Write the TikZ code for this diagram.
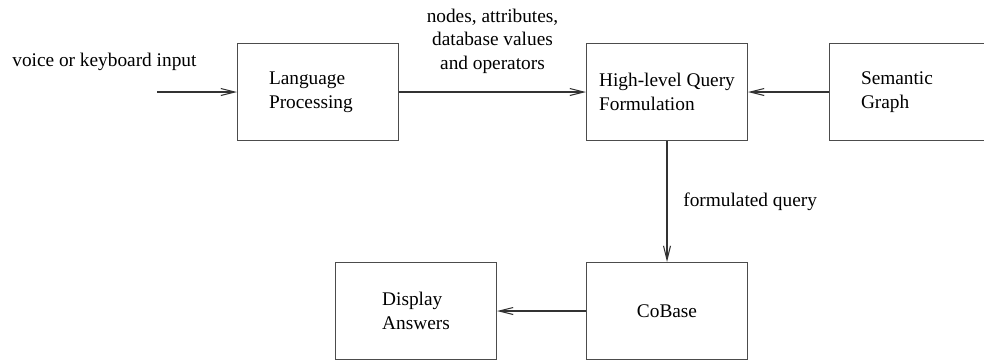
\documentclass[tikz,border=0pt]{standalone}
\usepackage{fontspec}
\setmainfont{Liberation Serif}
\usetikzlibrary{arrows.meta}

\begin{document}
\begin{tikzpicture}[x=0.02cm, y=-0.02cm]
        % Style definitions
        \tikzset{
            block/.style={draw=black!70, line width=0.6pt, minimum width=3.22cm, minimum height=1.94cm,
                          align=left, inner sep=0pt, font=\fontsize{11}{13.6}\selectfont},
            flow/.style={draw=black!80, line width=0.6pt, -{Straight Barb[length=2.8mm, width=1.4mm]}},
            note/.style={align=center, inner sep=0pt, font=\fontsize{11}{13.6}\selectfont}
        }
        \useasboundingbox (0, 0) rectangle (984, 360);

        % ==========================================
        % TOP ROW (y = 92)
        % ==========================================
        \node[block, text width=1.96cm] (lang) at (318, 92) {Language\\Processing};
        \node[block] (query) at (667, 92) {High-level Query\\Formulation};
        \node[block, text width=1.96cm] (graph) at (910, 92) {Semantic\\Graph};

        % Input coming in from the left
        \node[note, anchor=west] (inlabel) at (12, 62) {voice or keyboard input};
        \coordinate (instart) at (157, 92);
        \draw[flow] (instart) -- (lang);

        % Language processing hands its results to the query formulation
        \draw[flow] (lang) -- node[note, above=10pt] (passed) {nodes, attributes,\\database values\\and operators} (query);
        \draw[flow] (graph) -- (query);

        % ==========================================
        % BOTTOM ROW (y = 311)
        % ==========================================
        \node[block] (cobase) at (667, 311) {CoBase};
        \node[block] (display) at (416, 311) {Display\\Answers};

        \draw[flow] (query) -- node[note, right=9pt] (formed) {formulated query} (cobase);
        \draw[flow] (cobase) -- (display);

    \end{tikzpicture}
\end{document}
